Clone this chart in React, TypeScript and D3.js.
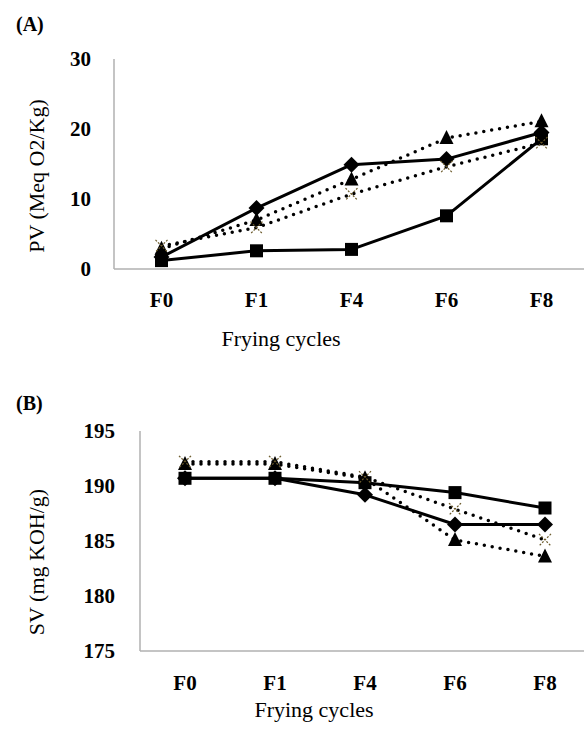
import React, { useEffect, useRef } from 'react'
import * as d3 from 'd3'

const cycles = ['F0', 'F1', 'F4', 'F6', 'F8']

// panel A - peroxide value
const pvDiamond = [1.7, 8.7, 14.9, 15.7, 19.5]
const pvSquare = [1.2, 2.6, 2.8, 7.6, 18.6]
const pvTriangle = [2.9, 7.0, 12.8, 18.7, 21.1]
const pvCross = [3.3, 5.9, 10.7, 14.6, 18.0]
const pvTicks = [0, 10, 20, 30]

// panel B - saponification value
const svDiamond = [190.7, 190.7, 189.2, 186.5, 186.5]
const svSquare = [190.7, 190.7, 190.3, 189.4, 188.0]
const svTriangle = [192.0, 192.0, 190.7, 185.1, 183.6]
const svCross = [192.2, 192.2, 190.8, 187.9, 185.1]
const svTicks = [175, 180, 185, 190, 195]

const FONT = '"Liberation Serif", "DejaVu Serif", serif'

function drawPanel(svg, cfg) {
	const g = svg.append('g')

	const x = d3.scaleBand()
		.domain(cycles)
		.range([cfg.left, cfg.right])

	const y = d3.scaleLinear()
		.domain(cfg.domain)
		.range([cfg.bottom, cfg.top])

	// axes (gray lines, no ticks)
	g.append('line')
		.attr('x1', cfg.left).attr('x2', cfg.left)
		.attr('y1', cfg.top).attr('y2', cfg.bottom)
		.style('stroke', '#b0b0b0').style('stroke-width', 1.5)
	g.append('line')
		.attr('x1', cfg.left).attr('x2', cfg.right)
		.attr('y1', cfg.bottom).attr('y2', cfg.bottom)
		.style('stroke', '#b0b0b0').style('stroke-width', 1.5)

	g.selectAll('text.ytick')
		.data(cfg.ticks)
		.enter().append('text')
		.attr('class', 'ytick')
		.attr('x', cfg.left - cfg.yLabelGap)
		.attr('y', d => y(d))
		.attr('dy', '0.35em')
		.attr('text-anchor', 'end')
		.style('font-family', FONT)
		.style('font-size', '21px')
		.style('font-weight', 'bold')
		.text(d => d)

	g.selectAll('text.xtick')
		.data(cycles)
		.enter().append('text')
		.attr('class', 'xtick')
		.attr('x', d => x(d) + x.bandwidth() / 2)
		.attr('y', cfg.bottom + cfg.xTickOff)
		.attr('text-anchor', 'middle')
		.style('font-family', FONT)
		.style('font-size', '21px')
		.style('font-weight', 'bold')
		.text(d => d)

	g.append('text')
		.attr('x', cfg.titleX)
		.attr('y', cfg.bottom + cfg.titleOff)
		.attr('text-anchor', 'middle')
		.style('font-family', FONT)
		.style('font-size', '22px')
		.text('Frying cycles')

	g.append('text')
		.attr('transform', 'translate(' + cfg.yTitleX + ',' + cfg.yTitleY + ') rotate(-90)')
		.attr('text-anchor', 'middle')
		.attr('dy', '0.35em')
		.style('font-family', FONT)
		.style('font-size', '22px')
		.text(cfg.yTitle)

	g.append('text')
		.attr('x', 16)
		.attr('y', cfg.tagY)
		.style('font-family', FONT)
		.style('font-size', '20px')
		.style('font-weight', 'bold')
		.text(cfg.tag)

	const line = d3.line()
		.x((d, i) => x(cycles[i]) + x.bandwidth() / 2)
		.y(d => y(d))

	const series = [
		{ vals: cfg.series[0], dotted: false, shape: 'diamond' },
		{ vals: cfg.series[1], dotted: false, shape: 'square' },
		{ vals: cfg.series[2], dotted: true, shape: 'triangle' },
		{ vals: cfg.series[3], dotted: true, shape: 'cross' },
	]

	series.forEach(s => {
		g.append('path')
			.datum(s.vals)
			.attr('d', line)
			.style('fill', 'none')
			.style('stroke', '#000')
			.style('stroke-width', s.dotted ? 3.5 : 3)
			.style('stroke-linecap', s.dotted ? 'round' : 'butt')
			.style('stroke-linejoin', 'round')
			.style('stroke-dasharray', s.dotted ? '0,8' : null)
	})

	series.forEach(s => {
		const pts = g.selectAll(null)
			.data(s.vals)
			.enter().append('g')
			.attr('transform', (d, i) => 'translate(' + (x(cycles[i]) + x.bandwidth() / 2) + ',' + y(d) + ')')
		if (s.shape === 'diamond') {
			pts.append('path').attr('d', 'M0,-8L8,0L0,8L-8,0Z').style('fill', '#000')
		} else if (s.shape === 'square') {
			pts.append('rect').attr('x', -6.5).attr('y', -6.5).attr('width', 13).attr('height', 13).style('fill', '#000')
		} else if (s.shape === 'triangle') {
			pts.append('path').attr('d', 'M0,-8L7,6L-7,6Z').style('fill', '#000')
		} else {
			pts.append('path').attr('d', 'M-6,-6L6,6M6,-6L-6,6')
				.style('stroke', '#6b5a2a').style('stroke-width', 1.2)
				.style('stroke-dasharray', '2,1.5').style('fill', 'none')
		}
	})
}

export default function App() {
	const ref = useRef(null)

	useEffect(() => {
		const svg = d3.select(ref.current)
		svg.selectAll('*').remove()

		drawPanel(svg, {
			left: 114, right: 589, top: 59, bottom: 269,
			domain: [0, 30], ticks: pvTicks, yLabelGap: 23,
			series: [pvDiamond, pvSquare, pvTriangle, pvCross],
			xTickOff: 38, titleOff: 77, titleX: 281,
			yTitleX: 36, yTitleY: 176,
			yTitle: 'PV (Meq O2/Kg)', tag: '(A)', tagY: 31,
		})

		drawPanel(svg, {
			left: 140, right: 590, top: 431, bottom: 651,
			domain: [175, 195], ticks: svTicks, yLabelGap: 25,
			series: [svDiamond, svSquare, svTriangle, svCross],
			xTickOff: 39, titleOff: 66, titleX: 314,
			yTitleX: 36, yTitleY: 562,
			yTitle: 'SV (mg KOH/g)', tag: '(B)', tagY: 410,
		})
	}, [])

	return (
		<svg ref={ref} width={584} height={730}
			style={{ position: 'absolute', left: 0, top: 0, background: '#fff' }} />
	)
}
